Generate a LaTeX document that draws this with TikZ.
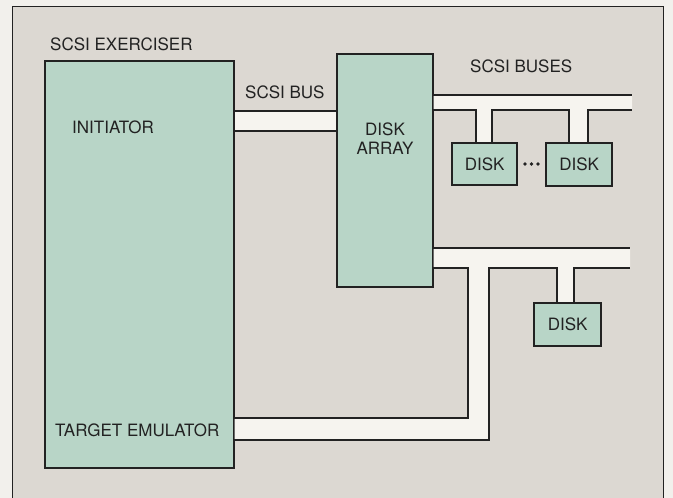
\documentclass[tikz,border=0pt]{standalone}
\usepackage{fontspec}
\setmainfont{TeX Gyre Heros}
\definecolor{paper}{HTML}{F2F0EC}
\definecolor{panel}{HTML}{DCD8D2}
\definecolor{boxfill}{HTML}{B8D5C7}
\definecolor{buswhite}{HTML}{F6F4EF}
\definecolor{ink}{HTML}{222222}
\tikzset{
  lbl/.style={font=\fontsize{17}{19}\selectfont, text=ink, inner sep=0pt},
  unit/.style={draw=ink, line width=1.4pt, fill=boxfill},
  busfill/.style={fill=buswhite, draw=none},
  busline/.style={draw=ink, line width=1.1pt},
}
\begin{document}
\begin{tikzpicture}[x=1pt,y=-1pt]
\useasboundingbox (0,0) rectangle (673,498);
\fill[paper] (0,0) rectangle (673,498);
% frame
\filldraw[fill=panel, draw=ink, line width=0.9pt] (12,510) -- (12,6) -- (663,6) -- (663,510);
% boxes
\draw[unit] (45,61) rectangle (234,468);
\draw[unit] (337,54) rectangle (433,287);
\node[unit, minimum width=64pt, minimum height=41pt, anchor=north west, inner sep=0pt] (d1) at (452,143) {};
\node[unit, minimum width=65pt, minimum height=42pt, anchor=north west, inner sep=0pt] (d2) at (546,143) {};
\node[unit, minimum width=66pt, minimum height=42pt, anchor=north west, inner sep=0pt] (d3) at (534,303) {};
% SCSI BUS
\fill[busfill] (234.7,111) rectangle (336.3,131);
\draw[busline] (234,111) -- (337,111) (234,131) -- (337,131);
% upper buses
\fill[busfill] (433.7,95) -- (632,95) -- (632,110) -- (588,110) -- (588,143) -- (569,143) -- (569,110)
  -- (492,110) -- (492,143) -- (476,143) -- (476,110) -- (433.7,110) -- cycle;
\draw[busline] (433,95) -- (632,95);
\draw[busline] (433,110) -- (476,110) -- (476,143);
\draw[busline] (492,143) -- (492,110) -- (569,110) -- (569,143);
\draw[busline] (588,143) -- (588,110) -- (632,110);
% lower bus
\fill[busfill] (433.7,248) -- (630,248) -- (630,268) -- (574,268) -- (574,303) -- (557,303) -- (557,268)
  -- (489,268) -- (489,440) -- (234.7,440) -- (234.7,418) -- (468,418) -- (468,268) -- (433.7,268) -- cycle;
\draw[busline] (433,248) -- (630,248);
\draw[busline] (433,268) -- (468,268) -- (468,418) -- (234,418);
\draw[busline] (234,440) -- (489,440) -- (489,268) -- (557,268) -- (557,303);
\draw[busline] (574,303) -- (574,268) -- (630,268);
% redraw disk borders on top
\draw[draw=ink, line width=1.4pt] (d1.north west) rectangle (d1.south east);
\draw[draw=ink, line width=1.4pt] (d2.north west) rectangle (d2.south east);
\draw[draw=ink, line width=1.4pt] (d3.north west) rectangle (d3.south east);
% dots
\foreach \x in {525,531.5,538} \fill[ink] (\x,164) circle (1.8pt);
% labels
\node[lbl, anchor=base west] (t1) at (50,50) {SCSI EXERCISER};
\node[lbl, anchor=base west] (t2) at (245,98) {SCSI BUS};
\node[lbl, anchor=base west] (t3) at (72,133) {INITIATOR};
\node[lbl, anchor=base west] (t4) at (55,436) {TARGET EMULATOR};
\node[lbl, anchor=base west] (t5) at (470,72) {SCSI BUSES};
\node[lbl, anchor=base] (t6) at (385,135) {DISK};
\node[lbl, anchor=base] (t7) at (385,154) {ARRAY};
\node[lbl] at (d1) {DISK};
\node[lbl] at (d2) {DISK};
\node[lbl] at (d3) {DISK};
\end{tikzpicture}
\end{document}
